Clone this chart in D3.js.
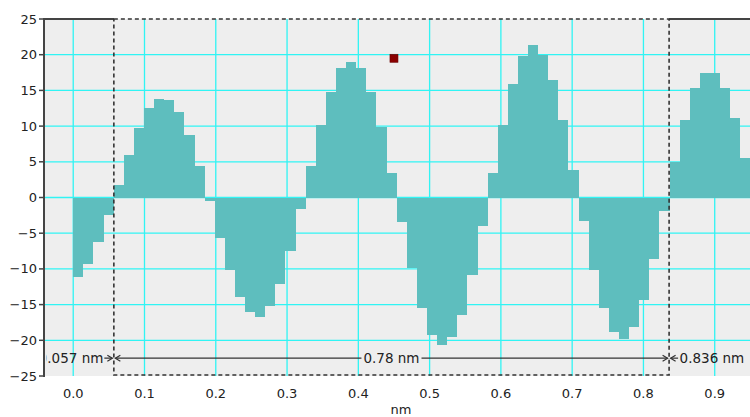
<!DOCTYPE html>
<html>
<head>
<meta charset="utf-8">
<script src="https://cdn.jsdelivr.net/npm/d3@7"></script>
<style>
  html, body { margin: 0; padding: 0; background: #ffffff; }
  svg { display: block; }
  text { font-family: "DejaVu Sans", Verdana, sans-serif; fill: #222; }
</style>
</head>
<body>
<svg id="chart" width="750" height="417"></svg>
<script>
// Height profile sampled along a line, one value per sample step (nm)
const sampleStep = 0.01418;
const heights = [
  -11.1, -9.3, -6.3, -2.5,
  1.8, 6.0, 9.7, 12.5, 13.8, 13.6, 12.0, 8.7, 4.4,
  -0.5, -5.7, -10.2, -14.0, -16.1, -16.7, -15.2, -12.1, -7.5, -1.6,
  4.4, 10.1, 14.8, 18.1, 19.0, 18.1, 14.8, 9.9, 3.4,
  -3.5, -9.9, -15.5, -19.2, -20.7, -19.6, -16.4, -10.9, -4.0,
  3.4, 10.1, 15.9, 19.8, 21.4, 20.0, 16.5, 10.8, 3.9,
  -3.3, -10.1, -15.5, -18.9, -19.8, -18.1, -14.4, -8.6, -1.9,
  5.0, 10.8, 15.3, 17.5, 17.5, 15.3, 11.2, 5.5
];

// Axis ticks
const xTicks = [0.0, 0.1, 0.2, 0.3, 0.4, 0.5, 0.6, 0.7, 0.8, 0.9];
const yTicks = [-25, -20, -15, -10, -5, 0, 5, 10, 15, 20, 25];
const xLabel = "nm";

// Measurement cursors and the marked point
const cursorStart = 0.057;
const cursorEnd = 0.836;
const cursorLabels = ["0.057 nm", "0.78 nm", "0.836 nm"];
const cursorLabelValue = -22.5;
const markerPoint = [0.45, 19.5];

(function draw() {
  const svg = d3.select("#chart");
  const pLeft = 44, pRight = 750, pTop = 19, pBottom = 376;

  const x = d3.scaleLinear().domain([-0.041, 0.9495]).range([pLeft, pRight]);
  const y = d3.scaleLinear().domain([-25, 25]).range([pBottom, pTop]);

  const defs = svg.append("defs");
  defs.append("clipPath").attr("id", "plotClip")
    .append("rect").attr("x", pLeft + 1).attr("y", pTop)
    .attr("width", pRight - pLeft).attr("height", pBottom - pTop);
  defs.append("clipPath").attr("id", "annClip")
    .append("rect").attr("x", pLeft + 2.5).attr("y", pTop)
    .attr("width", pRight - pLeft).attr("height", pBottom - pTop);

  // Plot background
  svg.append("rect")
    .attr("x", pLeft).attr("y", pTop)
    .attr("width", pRight - pLeft).attr("height", pBottom - pTop)
    .attr("fill", "#eeeeee");

  const plot = svg.append("g").attr("clip-path", "url(#plotClip)");

  // Grid
  plot.append("g").selectAll("line").data(xTicks).join("line")
    .attr("x1", d => x(d)).attr("x2", d => x(d))
    .attr("y1", pTop).attr("y2", pBottom)
    .attr("stroke", "#30f4f4").attr("stroke-width", 1.3);
  plot.append("g").selectAll("line").data(yTicks.filter(d => d > -25 && d < 25)).join("line")
    .attr("x1", pLeft).attr("x2", pRight)
    .attr("y1", d => y(d)).attr("y2", d => y(d))
    .attr("stroke", "#30f4f4").attr("stroke-width", 1.3);

  // Profile bars
  plot.append("g").selectAll("rect").data(heights).join("rect")
    .attr("x", (d, i) => x(i * sampleStep))
    .attr("width", (d, i) => x((i + 1) * sampleStep) - x(i * sampleStep))
    .attr("y", d => y(Math.max(0, d)))
    .attr("height", d => Math.abs(y(d) - y(0)))
    .attr("fill", "#5ebebe")
    .attr("shape-rendering", "crispEdges");

  // Marked point
  plot.append("rect")
    .attr("x", x(markerPoint[0]) - 4).attr("y", y(markerPoint[1]) - 4)
    .attr("width", 8).attr("height", 8)
    .attr("fill", "#8a0000").attr("stroke", "#6a0000").attr("stroke-width", 0.6);

  // Frame: left axis line and top edge outside the cursor box
  svg.append("line")
    .attr("x1", pLeft).attr("x2", pLeft).attr("y1", pTop - 1).attr("y2", pBottom + 1)
    .attr("stroke", "#444").attr("stroke-width", 2);
  svg.append("line")
    .attr("x1", pLeft).attr("x2", x(cursorStart)).attr("y1", pTop).attr("y2", pTop)
    .attr("stroke", "#444").attr("stroke-width", 2);
  svg.append("line")
    .attr("x1", x(cursorEnd)).attr("x2", pRight).attr("y1", pTop).attr("y2", pTop)
    .attr("stroke", "#444").attr("stroke-width", 2);

  // Cursor box (dashed)
  svg.append("rect")
    .attr("x", x(cursorStart)).attr("y", pTop)
    .attr("width", x(cursorEnd) - x(cursorStart)).attr("height", pBottom - 1 - pTop)
    .attr("fill", "none").attr("stroke", "#333").attr("stroke-width", 1.6)
    .attr("stroke-dasharray", "4,3");

  // Y axis ticks and labels
  const yAxis = svg.append("g");
  yAxis.selectAll("line").data(yTicks).join("line")
    .attr("x1", pLeft - 5).attr("x2", pLeft)
    .attr("y1", d => y(d)).attr("y2", d => y(d))
    .attr("stroke", "#444").attr("stroke-width", 1.5);
  yAxis.selectAll("text").data(yTicks).join("text")
    .attr("x", pLeft - 7).attr("y", d => y(d))
    .attr("text-anchor", "end").attr("dominant-baseline", "central")
    .attr("font-size", 13)
    .text(d => d < 0 ? "\u2212" + Math.abs(d) : String(d));

  // X axis labels
  svg.append("g").selectAll("text").data(xTicks).join("text")
    .attr("x", d => x(d)).attr("y", 393)
    .attr("text-anchor", "middle").attr("dominant-baseline", "central")
    .attr("font-size", 13)
    .text(d3.format(".1f"));
  svg.append("text")
    .attr("x", 401).attr("y", 409)
    .attr("text-anchor", "middle").attr("dominant-baseline", "central")
    .attr("font-size", 13)
    .text(xLabel);

  // Cursor distance annotations
  const ann = svg.append("g").attr("clip-path", "url(#annClip)");
  const ay = y(cursorLabelValue);
  const xa = x(cursorStart), xb = x(cursorEnd);
  const stroke = "#333";

  function arrowHead(tip, dir) {
    ann.append("path")
      .attr("d", `M${tip - dir * 5},${ay - 3}L${tip},${ay}L${tip - dir * 5},${ay + 3}`)
      .attr("fill", "none").attr("stroke", stroke).attr("stroke-width", 1.2);
  }
  function seg(x1, x2) {
    ann.append("line").attr("x1", x1).attr("x2", x2).attr("y1", ay).attr("y2", ay)
      .attr("stroke", stroke).attr("stroke-width", 1.2);
  }

  // left of the box
  ann.append("text")
    .attr("x", xa - 10.5).attr("y", ay)
    .attr("text-anchor", "end").attr("dominant-baseline", "central")
    .attr("font-size", 13.5).text(cursorLabels[0]);
  seg(xa - 9.5, xa - 1.5);
  arrowHead(xa - 1.5, 1);

  // inside the box
  const cx = (xa + xb) / 2;
  const mid = ann.append("text")
    .attr("x", cx).attr("y", ay)
    .attr("text-anchor", "middle").attr("dominant-baseline", "central")
    .attr("font-size", 13.5).text(cursorLabels[1]);
  const half = mid.node().getComputedTextLength() / 2;
  seg(xa + 1.5, cx - half - 2);
  arrowHead(xa + 1.5, -1);
  seg(cx + half + 2, xb - 1.5);
  arrowHead(xb - 1.5, 1);

  // right of the box
  seg(xb + 1.5, xb + 9);
  arrowHead(xb + 1.5, -1);
  ann.append("text")
    .attr("x", xb + 10.5).attr("y", ay)
    .attr("text-anchor", "start").attr("dominant-baseline", "central")
    .attr("font-size", 13.5).text(cursorLabels[2]);
})();
</script>
</body>
</html>
